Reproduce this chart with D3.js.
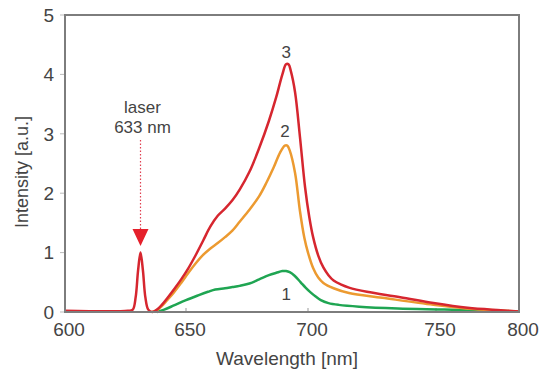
<!DOCTYPE html>
<html><head><meta charset="utf-8">
<script src="https://cdn.jsdelivr.net/npm/d3@7"></script>
<style>body{margin:0;background:#fff}svg{display:block}text{font-family:"Liberation Sans",Arial,sans-serif;fill:#444}</style>
</head><body>
<svg id="c" width="550" height="381"></svg>
<script>
// ---- data ----
const xTicks = [600, 650, 700, 750, 800];
const yTicks = [0, 1, 2, 3, 4, 5];

// curve 3 (red) including laser line
const wl3 = [600,626,628,629.2,630.2,631.2,632.2,633.2,634.4,636,638,640,642,645,648,651,654,657,660,663,666,669,672,676,680,684,687,689.5,691,692,693,694.7,696.7,698.8,700.5,702,704,706,708,710,713,716,723,736,749,769,789,800];
const v3  = [0.02,0.02,0.04,0.25,0.7,1.0,0.7,0.25,0.04,0.0,0.04,0.12,0.22,0.38,0.55,0.74,0.96,1.2,1.44,1.62,1.74,1.88,2.06,2.36,2.76,3.22,3.62,4.0,4.17,4.17,4.05,3.7,2.95,2.1,1.6,1.26,0.95,0.75,0.62,0.53,0.46,0.41,0.34,0.25,0.15,0.07,0.03,0.01];

// curve 2 (orange)
const wl2 = [636,638,640,642,645,648,651,654,657,660,663,666,669,672,676,680,683,686,688.5,690.5,691.5,692.5,694.7,696.7,698.5,700,702,704,706,710,716,729,749,768,800];
const v2  = [0.0,0.03,0.1,0.19,0.33,0.49,0.66,0.82,0.96,1.07,1.16,1.26,1.37,1.52,1.72,1.95,2.18,2.44,2.68,2.8,2.8,2.72,2.34,1.7,1.25,1.0,0.74,0.58,0.49,0.40,0.32,0.24,0.12,0.06,0.01];

// curve 1 (green)
const wl1 = [638,641,645,650,655,659,662,666,669,672,676,680,684,687,689.5,691,692.5,694.5,697,699,701,703,705,708,712,720,735,755,780,800];
const v1  = [0.0,0.04,0.11,0.2,0.28,0.34,0.38,0.40,0.42,0.44,0.48,0.55,0.62,0.66,0.69,0.69,0.67,0.61,0.5,0.41,0.33,0.26,0.2,0.15,0.12,0.09,0.06,0.04,0.02,0.01];

const seriesNames = ["1", "2", "3"];
const seriesColors = ["#1fa552", "#ec9a30", "#d6262f"];

// ---- chart ----
const svg = d3.select("#c");
const x = d3.scaleLinear().domain(xTicks).range([65, 186, 308, 436, 519]);
const y = d3.scaleLinear().domain([0, 5]).range([312, 15]);

const line = d3.line().x(d => x(d[0])).y(d => y(d[1])).curve(d3.curveCatmullRom.alpha(0.5));
const zip = (a, b) => a.map((w, i) => [w, b[i]]);
const series = [zip(wl1, v1), zip(wl2, v2), zip(wl3, v3)];

// y ticks
svg.append("g").selectAll("line").data(yTicks).join("line")
  .attr("x1", 60).attr("x2", 65).attr("y1", d => y(d)).attr("y2", d => y(d))
  .attr("stroke", "#bbb").attr("stroke-width", 1);
svg.append("g").selectAll("text").data(yTicks).join("text")
  .attr("x", 54).attr("y", d => y(d)).attr("dy", "0.36em")
  .attr("text-anchor", "end").attr("font-size", 19).text(d => d);

// x ticks
svg.append("g").selectAll("line").data(xTicks).join("line")
  .attr("x1", d => x(d)).attr("x2", d => x(d)).attr("y1", 308).attr("y2", 312)
  .attr("stroke", "#999").attr("stroke-width", 1);
svg.append("g").selectAll("text").data(xTicks).join("text")
  .attr("x", d => x(d) + 4).attr("y", 336)
  .attr("text-anchor", "middle").attr("font-size", 19).text(d => d);

// curves
svg.append("g").selectAll("path").data(series).join("path")
  .attr("d", line).attr("fill", "none")
  .attr("stroke", (d, i) => seriesColors[i]).attr("stroke-width", 2.5)
  .attr("stroke-linejoin", "round");

// frame
svg.append("rect").attr("x", 65).attr("y", 15).attr("width", 454).attr("height", 297)
  .attr("fill", "none").attr("stroke", "#7d7d7d").attr("stroke-width", 2);

// series labels
const labelPos = [[691.5, 300], [691, 137], [691.5, 58]];
svg.append("g").selectAll("text").data(seriesNames).join("text")
  .attr("x", (d, i) => x(labelPos[i][0]) - 1)
  .attr("y", (d, i) => labelPos[i][1])
  .attr("text-anchor", "middle").attr("font-size", 17).text(d => d);

// laser annotation
const laserX = x(631.2);
svg.append("text").attr("x", laserX + 2).attr("y", 113).attr("text-anchor", "middle").attr("font-size", 17).text("laser");
svg.append("text").attr("x", laserX + 2).attr("y", 133).attr("text-anchor", "middle").attr("font-size", 17).text("633 nm");
svg.append("line").attr("x1", laserX).attr("x2", laserX).attr("y1", 140).attr("y2", 229)
  .attr("stroke", "#e04050").attr("stroke-width", 1.2).attr("stroke-dasharray", "1.5,2");
svg.append("path").attr("d", `M${laserX - 8},229 L${laserX + 8},229 L${laserX},246 Z`).attr("fill", "#e5202b");

// axis titles
svg.append("text").attr("x", 287).attr("y", 365).attr("text-anchor", "middle").attr("font-size", 19).text("Wavelength [nm]");
svg.append("text").attr("transform", "translate(28,172) rotate(-90)").attr("text-anchor", "middle").attr("font-size", 18).text("Intensity [a.u.]");
</script>
</body></html>
